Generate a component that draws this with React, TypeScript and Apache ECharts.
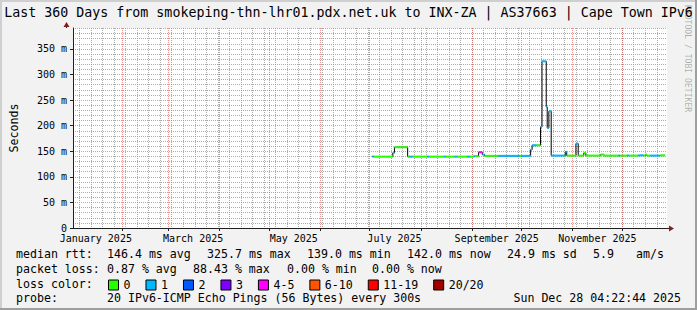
import React, { useEffect, useRef } from 'react';
import * as echarts from 'echarts';

const FONT = "'DejaVu Sans Mono', monospace";

const titleText = 'Last 360 Days from smokeping-thn-lhr01.pdx.net.uk to INX-ZA | AS37663 | Cape Town IPv6';
const endTime = '2025-12-28T04:22:44';
const rangeDays = 360;

// median RTT samples (ms) and lost pings (out of 20), each held until the next sample
const sampleTimes = [
  '2025-07-02T13:00', '2025-07-03T12:00', '2025-07-15T00:00', '2025-07-16T00:00', '2025-07-24T00:00',
  '2025-07-25T00:00', '2025-07-27T00:00', '2025-08-05T00:00', '2025-08-06T00:00', '2025-08-15T00:00',
  '2025-08-16T00:00', '2025-08-21T12:00', '2025-08-23T00:00', '2025-08-29T00:00', '2025-08-30T18:00',
  '2025-09-01T14:00', '2025-09-02T18:00', '2025-09-05T00:00', '2025-09-07T06:00', '2025-09-08T14:00',
  '2025-09-17T00:00', '2025-09-29T18:00', '2025-10-01T00:00', '2025-10-06T13:00', '2025-10-07T10:00',
  '2025-10-10T00:00', '2025-10-12T13:00', '2025-10-13T10:00', '2025-10-16T00:00', '2025-10-16T14:00',
  '2025-10-17T14:00', '2025-10-19T00:00', '2025-10-27T00:00', '2025-10-27T13:00', '2025-10-28T10:00',
  '2025-11-03T00:00', '2025-11-04T09:00', '2025-11-07T18:00', '2025-11-09T00:00', '2025-11-18T00:00',
  '2025-11-20T00:00', '2025-11-28T18:00', '2025-11-29T16:00', '2025-12-04T00:00', '2025-12-05T00:00',
  '2025-12-10T18:00', '2025-12-13T18:00', '2025-12-15T00:00', '2025-12-16T00:00', '2025-12-18T00:00',
  '2025-12-24T00:00',
];
const medianMs = [
  139.5, 139.5, 146.8, 157.8, 139.5,
  139.5, 139.5, 139.5, 139.5, 139.5,
  139.5, 139.5, 139.5, 139.5, 139.5,
  140, 140.5, 148, 143.5, 141,
  141, 141, 141, 153, 161.6,
  161.6, 197.6, 325.7, 236.7, 195.6,
  228, 141.5, 141.5, 149, 141.5,
  165, 141.5, 146.8, 141.5, 143.5,
  141.5, 141.5, 141.5, 141.5, 141.5,
  142, 141.5, 143, 141.5, 141.5,
  142,
];
const lossPings = [
  1, 0, 1, 0, 0,
  1, 0, 1, 0, 1,
  0, 1, 0, 1, 0,
  1, 0, 4, 1, 0,
  1, 0, 1, 1, 1,
  0, 1, 1, 1, 1,
  1, 1, 0, 1, 0,
  1, 0, 0, 0, 0,
  0, 1, 0, 1, 0,
  1, 0, 0, 0, 1,
  0,
];
const lastSampleEnd = '2025-12-27T00:00';

const lossLabels = ['0', '1', '2', '3', '4-5', '6-10', '11-19', '20/20'];
const lossUpper = [0, 1, 2, 3, 5, 10, 19, 20];
const lossColors = ['#26ff00', '#00b8ff', '#0059ff', '#7e00ff', '#ff00fe', '#ff5500', '#ff0000', '#a10000'];

const monthStarts = [
  '2025-02-01', '2025-03-01', '2025-04-01', '2025-05-01', '2025-06-01', '2025-07-01',
  '2025-08-01', '2025-09-01', '2025-10-01', '2025-11-01', '2025-12-01',
];
const xLabelDates = ['2025-01-16', '2025-03-16', '2025-05-16', '2025-07-16', '2025-09-16', '2025-11-16'];
const xLabelTexts = ['January 2025', 'March 2025', 'May 2025', 'July 2025', 'September 2025', 'November 2025'];
const firstWeekLine = '2025-01-06';

const yMaxMs = 390.84;
const yMajorTicks = [0, 50, 100, 150, 200, 250, 300, 350];
const yMinorStep = 10;

const statRows: [number, number, string][] = [
  [254, 16, 'median rtt:'], [254, 107, '146.4 ms avg'], [254, 207, '325.7 ms max'], [254, 307, '139.0 ms min'],
  [254, 407, '142.0 ms now'], [254, 507, '24.9 ms sd'], [254, 593, '5.9'], [254, 636, 'am/s'],
  [269, 16, 'packet loss:'], [269, 107, '0.87 % avg'], [269, 193, '88.43 % max'], [269, 287, '0.00 % min'],
  [269, 372, '0.00 % now'],
  [284, 16, 'loss color:'],
  [298, 16, 'probe:'], [298, 107, '20 IPv6-ICMP Echo Pings (56 Bytes) every 300s'],
];
const dateStamp = 'Sun Dec 28 04:22:44 2025';

const ts = (s: string) =>
  Date.parse(s.length <= 10 ? s + 'T00:00:00Z' : s.length === 16 ? s + ':00Z' : s + 'Z');

const END = ts(endTime);
const DAY = 86400000;
const START = END - rangeDays * DAY;

function bucketOf(loss: number) {
  for (let j = 0; j < lossUpper.length; j++) if (loss <= lossUpper[j]) return j;
  return lossUpper.length - 1;
}

function buildOption() {
  const n = sampleTimes.length;
  const segs = sampleTimes.map((t, i) => [
    ts(t),
    i + 1 < n ? ts(sampleTimes[i + 1]) : ts(lastSampleEnd),
    medianMs[i],
    bucketOf(lossPings[i]),
  ]);
  const stepData = sampleTimes.map((t, i) => [ts(t), medianMs[i]]);
  stepData.push([ts(lastSampleEnd), medianMs[n - 1]]);

  const weekLines: number[] = [];
  for (let t = ts(firstWeekLine); t < END; t += 7 * DAY) if (t > START) weekLines.push(t);
  const yMinor: number[] = [];
  for (let v = yMinorStep; v < yMaxMs; v += yMinorStep) if (v % 50 !== 0) yMinor.push(v);

  const labelTs = xLabelDates.map(ts);
  const labelFor = (v: number) => {
    const k = labelTs.indexOf(v);
    return k >= 0 ? xLabelTexts[k] : '';
  };

  const gridColor = 'rgba(143,143,143,0.75)';
  const mgridColor = 'rgba(222,79,79,0.6)';
  const axisColor = '#1f1f1f';
  const arrowColor = '#801f1f';

  const colorSeries = lossLabels.map((name, j) => ({
    type: 'custom',
    name,
    xAxisIndex: 1,
    yAxisIndex: 1,
    z: 3,
    itemStyle: { color: lossColors[j] },
    encode: { x: [0, 1], y: 2 },
    data: segs.filter((s) => s[3] === j).map((s) => [s[0], s[1], s[2]]),
    renderItem: (params: any, api: any) => {
      const p1 = api.coord([api.value(0), api.value(2)]);
      const p2 = api.coord([api.value(1), api.value(2)]);
      return {
        type: 'line',
        shape: { x1: p1[0], y1: p1[1], x2: p2[0], y2: p2[1] },
        style: { stroke: lossColors[j], lineWidth: 2 },
      };
    },
  }));

  const graphic: any[] = [
    // 3D frame
    { type: 'rect', shape: { x: 0, y: 0, width: 697, height: 2 }, style: { fill: '#cfcfcf' }, silent: true },
    { type: 'rect', shape: { x: 0, y: 0, width: 2, height: 310 }, style: { fill: '#cfcfcf' }, silent: true },
    { type: 'rect', shape: { x: 695, y: 0, width: 2, height: 310 }, style: { fill: '#9e9e9e' }, silent: true },
    { type: 'rect', shape: { x: 0, y: 308, width: 697, height: 2 }, style: { fill: '#9e9e9e' }, silent: true },
    // axis extensions and arrows
    { type: 'line', shape: { x1: 667, y1: 228.5, x2: 670, y2: 228.5 }, style: { stroke: axisColor, lineWidth: 1 }, silent: true },
    { type: 'line', shape: { x1: 66.5, y1: 28, x2: 66.5, y2: 25 }, style: { stroke: axisColor, lineWidth: 1 }, silent: true },
    { type: 'polygon', shape: { points: [[669, 225.5], [674, 228.5], [669, 231.5]] }, style: { fill: arrowColor }, silent: true },
    { type: 'polygon', shape: { points: [[63.5, 27], [66.5, 22], [69.5, 27]] }, style: { fill: arrowColor }, silent: true },
    // watermark
    {
      type: 'text', x: 688, y: 5, rotation: -Math.PI / 2, silent: true,
      style: { text: 'RRDTOOL / TOBI OETIKER', fontFamily: FONT, fontSize: 8.1, fill: 'rgba(0,0,0,0.3)', align: 'left', verticalAlign: 'middle' },
    },
  ];
  statRows.forEach(([y, x, text]) => {
    graphic.push({
      type: 'text', x, y, silent: true,
      style: { text, fontFamily: FONT, fontSize: 11.6, fill: '#000', align: 'left', verticalAlign: 'middle' },
    });
  });
  graphic.push({
    type: 'text', x: 681, y: 298, silent: true,
    style: { text: dateStamp, fontFamily: FONT, fontSize: 11.6, fill: '#000', align: 'right', verticalAlign: 'middle' },
  });

  return {
    animation: false,
    backgroundColor: '#f2f2f2',
    textStyle: { fontFamily: FONT },
    title: {
      text: titleText,
      left: 'center',
      top: 6,
      padding: 0,
      textStyle: { fontFamily: FONT, fontSize: 13.3, fontWeight: 'normal', color: '#000' },
    },
    grid: { left: 67, right: 30, top: 28, bottom: 82, show: true, backgroundColor: '#ffffff', borderWidth: 0 },
    legend: {
      left: 108,
      top: 279,
      padding: 0,
      itemWidth: 10,
      itemHeight: 10,
      itemGap: 15,
      icon: 'rect',
      selectedMode: false,
      data: lossLabels,
      itemStyle: { borderColor: '#000', borderWidth: 1 },
      textStyle: { fontFamily: FONT, fontSize: 11.6, color: '#000' },
    },
    xAxis: [
      {
        type: 'value', min: START, max: END, position: 'bottom',
        axisLine: { show: false }, axisLabel: { show: false },
        axisTick: { show: false, customValues: weekLines },
        splitLine: { show: true, lineStyle: { color: gridColor, width: 1, type: [1, 1] } },
      },
      {
        type: 'value', min: START, max: END, position: 'bottom',
        axisLine: { show: true, onZero: false, lineStyle: { color: axisColor, width: 1 } },
        axisTick: { show: true, customValues: monthStarts.map(ts), length: 3, lineStyle: { color: axisColor } },
        axisLabel: {
          show: true, customValues: labelTs, formatter: labelFor,
          fontFamily: FONT, fontSize: 10, lineHeight: 10, color: '#000', margin: 5,
        },
        splitLine: { show: true, lineStyle: { color: mgridColor, width: 1, type: [1, 1] } },
      },
    ],
    yAxis: [
      {
        type: 'value', min: 0, max: yMaxMs, position: 'left',
        axisLine: { show: false }, axisLabel: { show: false },
        axisTick: { show: false, customValues: yMinor },
        splitLine: { show: true, lineStyle: { color: gridColor, width: 1, type: [1, 1] } },
      },
      {
        type: 'value', min: 0, max: yMaxMs, position: 'left',
        name: 'Seconds', nameLocation: 'middle', nameGap: 53,
        nameTextStyle: { fontFamily: FONT, fontSize: 11.6, color: '#000' },
        axisLine: { show: true, onZero: false, lineStyle: { color: axisColor, width: 1 } },
        axisTick: { show: true, customValues: yMajorTicks, length: 3, lineStyle: { color: axisColor } },
        axisLabel: {
          show: true, customValues: yMajorTicks,
          formatter: (v: number) => (v === 0 ? '0' : v + ' m'),
          fontFamily: FONT, fontSize: 10, lineHeight: 10, color: '#000', margin: 6,
        },
        splitLine: { show: true, lineStyle: { color: mgridColor, width: 1, type: [1, 1] } },
      },
    ],
    series: [
      {
        type: 'line',
        name: 'median',
        xAxisIndex: 1,
        yAxisIndex: 1,
        step: 'end',
        showSymbol: false,
        z: 2,
        lineStyle: { color: '#000', width: 1 },
        data: stepData,
      },
      ...colorSeries,
    ],
    graphic,
  };
}

export default function App() {
  const ref = useRef<HTMLDivElement>(null);
  useEffect(() => {
    const chart = echarts.init(ref.current!, null, { renderer: 'svg' });
    chart.setOption(buildOption() as any);
    return () => chart.dispose();
  }, []);
  return <div ref={ref} style={{ position: 'absolute', left: 0, top: 0, width: 697, height: 310 }} />;
}
